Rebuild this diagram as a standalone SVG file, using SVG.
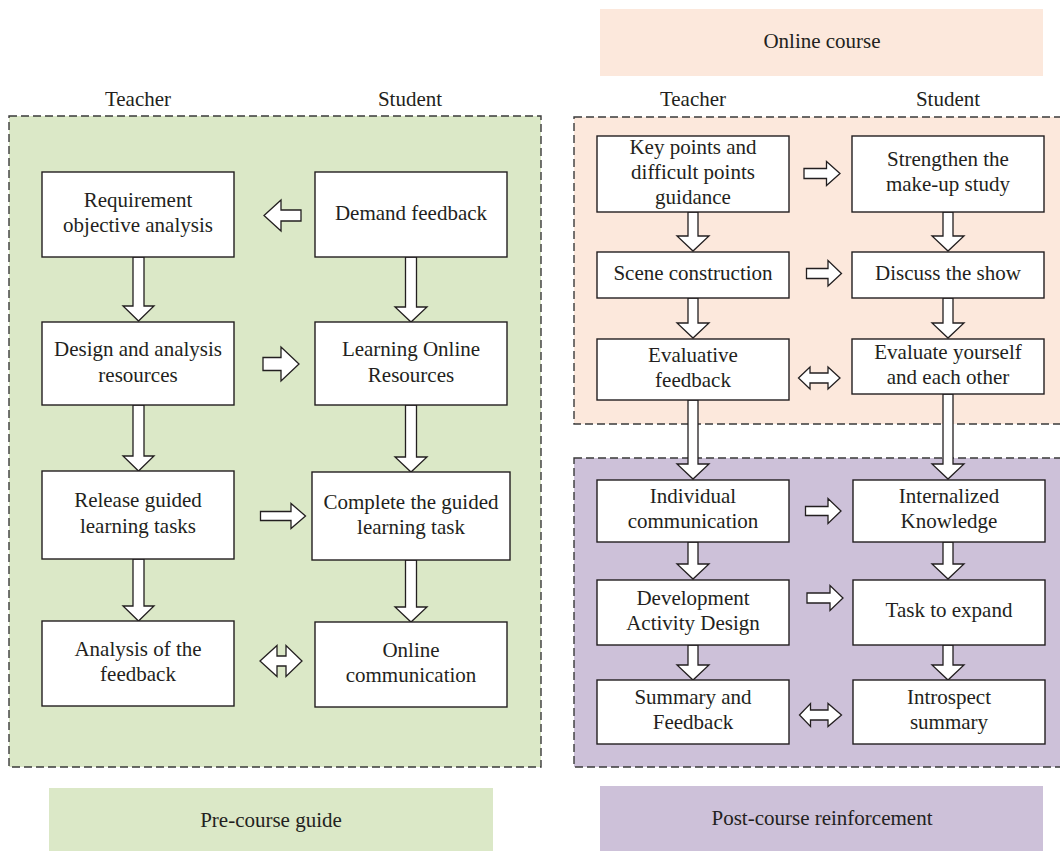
<svg xmlns="http://www.w3.org/2000/svg" width="1060" height="851" viewBox="0 0 1060 851">
<style>
text{font-family:"Liberation Serif","Times New Roman",serif;font-size:21px;fill:#231f20;text-anchor:middle}
.box{fill:#fff;stroke:#231f20;stroke-width:1.4}
.arr{fill:#fff;stroke:#231f20;stroke-width:1.3;stroke-linejoin:miter}
.dash{stroke:#3a3a3a;stroke-width:1.4;stroke-dasharray:8 4}
.hd{font-size:21px}
</style>
<rect width="1060" height="851" fill="#fff"/>
<g id="panels">
<rect x="9" y="116" width="532" height="651" fill="#dbe8c7" class="dash"/>
<rect x="574" y="117" width="492" height="307" fill="#fce8dc" class="dash"/>
<rect x="574" y="458" width="492" height="309" fill="#cdc1d9" class="dash"/>
</g>
<g id="labels">
<rect x="600" y="9" width="443" height="67" fill="#fce8dc"/>
<text x="822" y="48" class="hd">Online course</text>
<rect x="49" y="788" width="444" height="63" fill="#dbe8c7"/>
<text x="271" y="827" class="hd">Pre-course guide</text>
<rect x="600" y="786" width="443" height="65" fill="#cdc1d9"/>
<text x="822" y="825" class="hd">Post-course reinforcement</text>
<text x="138" y="106" class="hd">Teacher</text>
<text x="410" y="106" class="hd">Student</text>
<text x="693" y="106" class="hd">Teacher</text>
<text x="948" y="106" class="hd">Student</text>
</g>
<g id="connectors">
<path class="arr" d="M133 257H144V306H154L138.5 321L123 306H133Z"/>
<path class="arr" d="M133 405H144V456H154L138.5 471L123 456H133Z"/>
<path class="arr" d="M133 559H144V606H154L138.5 621L123 606H133Z"/>
<path class="arr" d="M405.5 257H416.5V307H427L411 322L395 307H405.5Z"/>
<path class="arr" d="M405.5 405H416.5V457H427L411 472L395 457H405.5Z"/>
<path class="arr" d="M405.5 560H416.5V607H427L411 622L395 607H405.5Z"/>
<path class="arr" d="M301 210V221H281V231L264 215.5L281 200V210Z"/>
<path class="arr" d="M263 357.5H281V347L299 364L281 381V370.5H263Z"/>
<path class="arr" d="M260.5 511.5H291V503.5L305.5 516L291 528.5V520.5H260.5Z"/>
<path class="arr" d="M260 661L277 645.5V656H286V645.5L302 661L286 676.5V666H277V676.5Z"/>
<path class="arr" d="M688 212H698V236H709L693 251L677 236H688Z"/>
<path class="arr" d="M688 298H698V323H709L693 338L677 323H688Z"/>
<path class="arr" d="M688 400H698V464H709L693 479L677 464H688Z"/>
<path class="arr" d="M943 212H953V236H964L948 251L932 236H943Z"/>
<path class="arr" d="M943 298H953V323H964L948 338L932 323H943Z"/>
<path class="arr" d="M943 394H953V464H964L948 479L932 464H943Z"/>
<path class="arr" d="M688 542H698V564H709L693 579L677 564H688Z"/>
<path class="arr" d="M688 645H698V665H709L693 680L677 665H688Z"/>
<path class="arr" d="M943 542H953V564H964L948 579L932 564H943Z"/>
<path class="arr" d="M943 645H953V665H964L948 680L932 665H943Z"/>
<path class="arr" d="M804 168.5H826.5V161.5L840 173.5L826.5 185.5V178.5H804Z"/>
<path class="arr" d="M806.5 268.5H828V260.5L841.5 273.5L828 286V278.5H806.5Z"/>
<path class="arr" d="M798.5 378L810 367V373H828V367L840 378L828 389V383H810V389Z"/>
<path class="arr" d="M805.5 506.5H828V498.5L841 511L828 523.5V515.5H805.5Z"/>
<path class="arr" d="M807 593H830V585.5L843 598L830 610.5V603H807Z"/>
<path class="arr" d="M799.5 715L810.5 703.5V710H828V703.5L841.5 715L828 726.5V720H810.5V726.5Z"/>
</g>
<g id="n-requirement"><rect class="box" x="42" y="172" width="192" height="85"/><text x="138" y="207">Requirement</text><text x="138" y="232">objective analysis</text></g>
<g id="n-demand"><rect class="box" x="315" y="172" width="192" height="85"/><text x="411" y="220">Demand feedback</text></g>
<g id="n-design"><rect class="box" x="42" y="322" width="192" height="83"/><text x="138" y="356">Design and analysis</text><text x="138" y="382">resources</text></g>
<g id="n-learning"><rect class="box" x="315" y="322" width="192" height="83"/><text x="411" y="356">Learning Online</text><text x="411" y="382">Resources</text></g>
<g id="n-release"><rect class="box" x="42" y="471" width="192" height="88"/><text x="138" y="507">Release guided</text><text x="138" y="533">learning tasks</text></g>
<g id="n-complete"><rect class="box" x="312" y="472" width="198" height="88"/><text x="411" y="509">Complete the guided</text><text x="411" y="534">learning task</text></g>
<g id="n-analysis"><rect class="box" x="42" y="621" width="192" height="85"/><text x="138" y="656">Analysis of the</text><text x="138" y="681">feedback</text></g>
<g id="n-online"><rect class="box" x="315" y="622" width="192" height="85"/><text x="411" y="657">Online</text><text x="411" y="682">communication</text></g>
<g id="n-keypoints"><rect class="box" x="597" y="136" width="192" height="76"/><text x="693" y="154">Key points and</text><text x="693" y="179">difficult points</text><text x="693" y="204">guidance</text></g>
<g id="n-strengthen"><rect class="box" x="852" y="136" width="192" height="76"/><text x="948" y="166">Strengthen the</text><text x="948" y="191">make-up study</text></g>
<g id="n-scene"><rect class="box" x="597" y="252" width="192" height="46"/><text x="693" y="280">Scene construction</text></g>
<g id="n-discuss"><rect class="box" x="852" y="252" width="192" height="46"/><text x="948" y="280">Discuss the show</text></g>
<g id="n-evaluative"><rect class="box" x="597" y="339" width="192" height="61"/><text x="693" y="362">Evaluative</text><text x="693" y="387">feedback</text></g>
<g id="n-evaluate"><rect class="box" x="852" y="339" width="192" height="55"/><text x="948" y="359">Evaluate yourself</text><text x="948" y="384">and each other</text></g>
<g id="n-individual"><rect class="box" x="597" y="480" width="192" height="62"/><text x="693" y="503">Individual</text><text x="693" y="528">communication</text></g>
<g id="n-internalized"><rect class="box" x="853" y="480" width="192" height="62"/><text x="949" y="503">Internalized</text><text x="949" y="528">Knowledge</text></g>
<g id="n-development"><rect class="box" x="597" y="580" width="192" height="65"/><text x="693" y="605">Development</text><text x="693" y="630">Activity Design</text></g>
<g id="n-task"><rect class="box" x="853" y="580" width="192" height="65"/><text x="949" y="617">Task to expand</text></g>
<g id="n-summary"><rect class="box" x="597" y="680" width="192" height="64"/><text x="693" y="704">Summary and</text><text x="693" y="729">Feedback</text></g>
<g id="n-introspect"><rect class="box" x="853" y="680" width="192" height="64"/><text x="949" y="704">Introspect</text><text x="949" y="729">summary</text></g>
</svg>
